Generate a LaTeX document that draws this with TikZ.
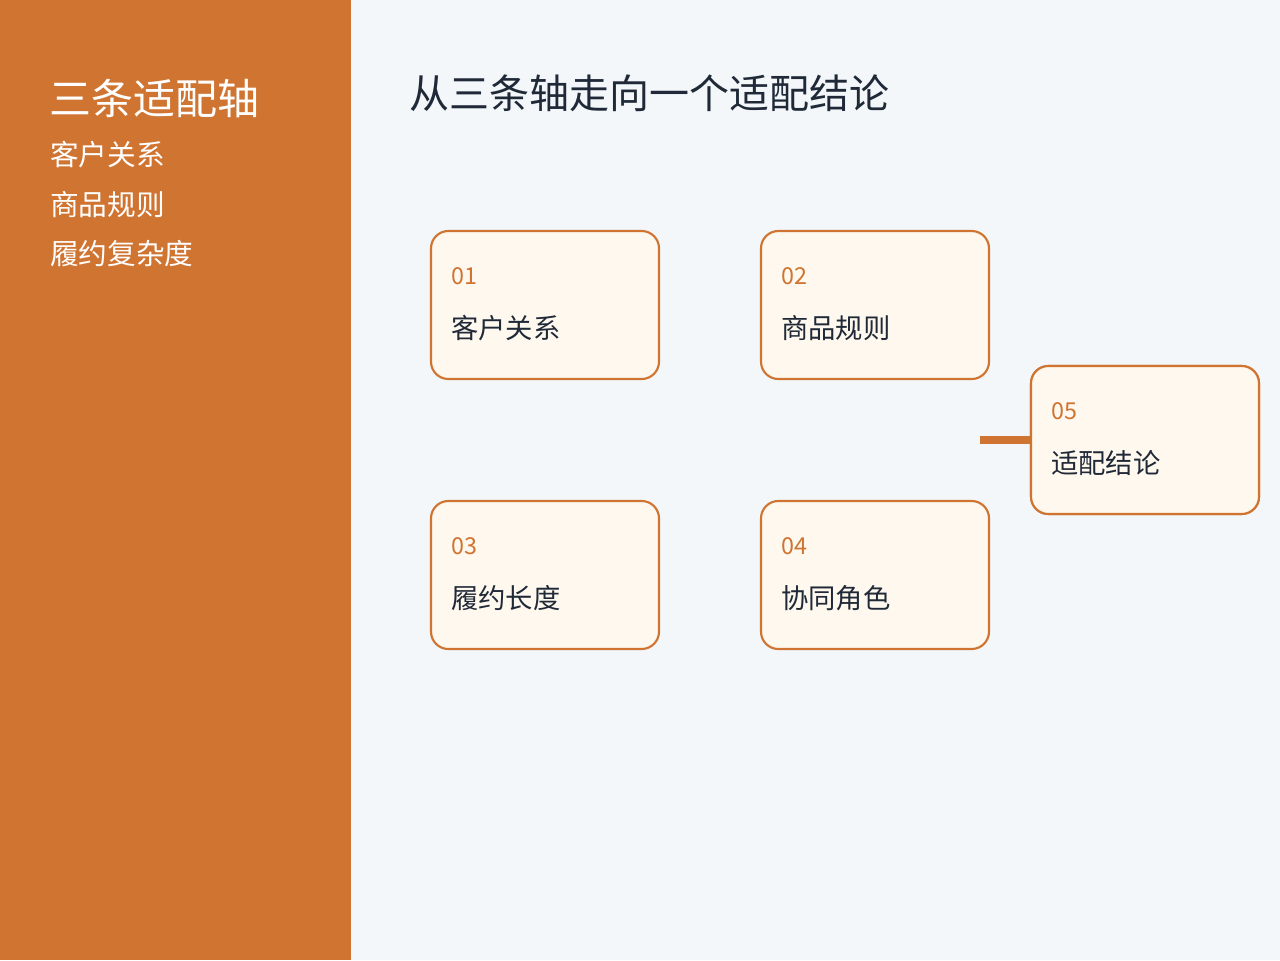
\documentclass[tikz,border=0pt]{standalone}
\usepackage{fontspec}
\setmainfont{Noto Sans CJK SC}
\definecolor{org}{HTML}{D07432}
\definecolor{bg}{HTML}{F3F7FA}
\definecolor{dark}{HTML}{1F2937}
\definecolor{boxf}{HTML}{FFF8EE}
\begin{document}
\begin{tikzpicture}[x=0.75pt,y=-0.75pt,
  box/.style={draw=org,line width=1.6pt,fill=boxf,rounded corners=13pt,minimum width=171pt,minimum height=111pt,inner sep=0pt},
  num/.style={anchor=west,text=org,font=\fontsize{17.5}{20}\selectfont},
  lab/.style={anchor=west,text=dark,font=\fontsize{20.5}{24}\selectfont},
  side/.style={anchor=west,text=white,font=\fontsize{21.5}{25}\selectfont}]
\useasboundingbox (0,0) rectangle (1280,960);
\fill[bg] (0,0) rectangle (1280,960);
\fill[org] (0,0) rectangle (351,960);
\node[anchor=west,text=white,font=\fontsize{31.5}{36}\selectfont,inner sep=0pt] (t1) at (49,98) {三条适配轴};
\node[side,inner sep=0pt] (s1) at (50,155) {客户关系};
\node[side,inner sep=0pt] (s2) at (50,205) {商品规则};
\node[side,inner sep=0pt] (s3) at (50,254) {履约复杂度};
\node[anchor=west,text=dark,font=\fontsize{30}{36}\selectfont,inner sep=0pt] (mt) at (409,93) {从三条轴走向一个适配结论};
\coordinate (c0) at (980,440);
\node[box] (b5) at (1145,440) {};
\draw[org,line width=5.5pt] (c0) -- (b5.west);
\foreach \n/\x/\y in {b1/545/305,b2/875/305,b3/545/575,b4/875/575,b5/1145/440}{
  \node[box] (\n) at (\x,\y) {};
}
\foreach \n/\k/\t in {b1/01/客户关系,b2/02/商品规则,b3/03/履约长度,b4/04/协同角色,b5/05/适配结论}{
  \node[num,inner sep=0pt] (\n n) at ([xshift=21*0.75pt,yshift=29*0.75pt]\n.west) {\k};
  \node[lab,inner sep=0pt] (\n l) at ([xshift=21*0.75pt,yshift=-23*0.75pt]\n.west) {\t};
}
\end{tikzpicture}
\end{document}
